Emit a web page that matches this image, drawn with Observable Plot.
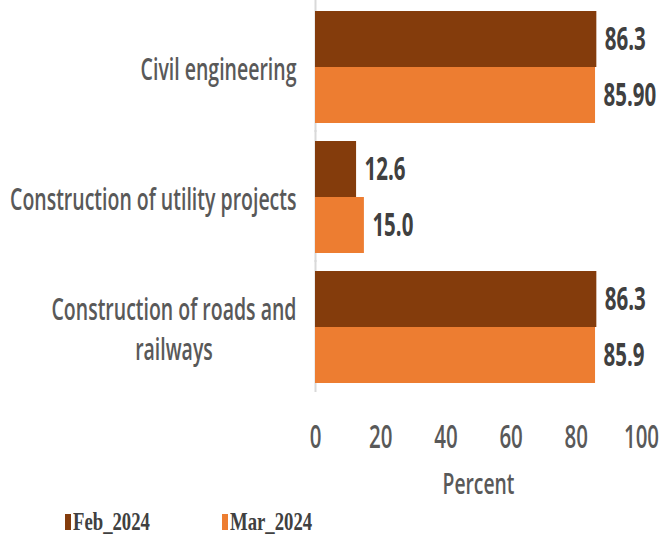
<!DOCTYPE html>
<html>
<head>
<meta charset="utf-8">
<script src="https://cdn.jsdelivr.net/npm/d3@7"></script>
<script src="https://cdn.jsdelivr.net/npm/@observablehq/plot@0.6"></script>
<style>
  body { margin: 0; background: white; }
  #chart { width: 669px; }
  #legend { display: flex; height: 34px; align-items: center; padding-left: 65px;
    font-family: 'Liberation Serif', 'Times New Roman', serif; font-weight: bold; font-size: 26px; color: #404040; }
  .item { width: 157px; display: flex; align-items: center; }
  .sw { width: 6px; height: 16px; margin-right: 2px; flex: none; }
  .lab { display: inline-block; transform: scaleX(0.72); transform-origin: left center; white-space: nowrap; }
</style>
</head>
<body>
<div id="chart"></div>
<script>
const categories = ["Civil engineering", "Construction of utility projects", "Construction of roads and railways"];
const catLabels = ["Civil engineering", "Construction of utility projects", "Construction of roads and\nrailways"];
const series = ["Feb_2024", "Mar_2024"];
const febValues = [86.3, 12.6, 86.3];
const marValues = [85.9, 15.0, 85.9];
const febLabels = ["86.3", "12.6", "86.3"];
const marLabels = ["85.90", "15.0", "85.9"];
const xTicks = [0, 20, 40, 60, 80, 100];
const colors = ["#843C0C", "#ED7D31"];
const xLabel = "Percent";

const rows = categories.flatMap((c, i) => [
  {category: c, series: series[0], value: febValues[i], label: febLabels[i]},
  {category: c, series: series[1], value: marValues[i], label: marLabels[i]}
]);

const chart = Plot.plot({
  width: 669, height: 505,
  marginLeft: 315, marginRight: 28, marginTop: 10, marginBottom: 122,
  style: {fontFamily: "'Open Sans', sans-serif", background: "white", overflow: "visible"},
  x: {domain: [0, 100]},
  y: {domain: series, padding: 0, axis: null},
  fy: {domain: categories, paddingInner: 0.134, paddingOuter: 0, axis: null},
  color: {domain: series, range: colors},
  marks: [
    Plot.ruleX([0], {stroke: "#d9d9d9", strokeWidth: 2, insetTop: -10, insetBottom: -9}),
    Plot.barX(rows, {fy: "category", y: "series", x: "value", fill: "series"}),
    Plot.text(rows, {fy: "category", y: "series", x: "value", text: "label", dx: 8, textAnchor: "start",
      fontSize: 32, fontWeight: 700, fill: "#404040"}),
    Plot.text(categories, {fy: d => d, text: (d, i) => catLabels[i], frameAnchor: "left", textAnchor: "end",
      dx: -19, fontSize: 30, lineHeight: 1.33, fill: "#595959", fontWeight: 600}),
    Plot.axisX({ticks: xTicks, tickSize: 0, tickPadding: 42, fontSize: 32, fontWeight: 600, color: "#595959",
      label: xLabel, labelAnchor: "center", labelArrow: "none", labelOffset: 110})
  ]
});
document.getElementById("chart").appendChild(chart);

function squeezeEl(t, sx) {
  const tr = t.getAttribute("transform") || "";
  t.setAttribute("transform", tr + ` scale(${sx},1)`);
}
const valueSet = new Set([...febLabels, ...marLabels]);
chart.querySelectorAll('g[aria-label="text"] text').forEach(t => {
  if (valueSet.has(t.textContent)) {
    squeezeEl(t, 0.64);
  } else {
    const spans = t.querySelectorAll("tspan");
    if (spans.length > 1) {
      const w = Array.from(spans, s => s.getComputedTextLength());
      const W = Math.max(...w);
      spans.forEach((s, i) => s.setAttribute("x", -(W - w[i]) / 2));
    }
    squeezeEl(t, 0.65);
  }
});
chart.querySelectorAll('g[aria-label="x-axis tick label"] text').forEach(t => squeezeEl(t, 0.64));
chart.querySelectorAll('g[aria-label="x-axis label"] text').forEach(t => { t.setAttribute("font-size", 28); squeezeEl(t, 0.69); });

// legend
const legend = d3.select("body").append("div").attr("id", "legend");
series.forEach((s, i) => {
  const it = legend.append("div").attr("class", "item");
  it.append("span").attr("class", "sw").style("background", colors[i]);
  it.append("span").attr("class", "lab").text(s);
});
</script>
</body>
</html>
